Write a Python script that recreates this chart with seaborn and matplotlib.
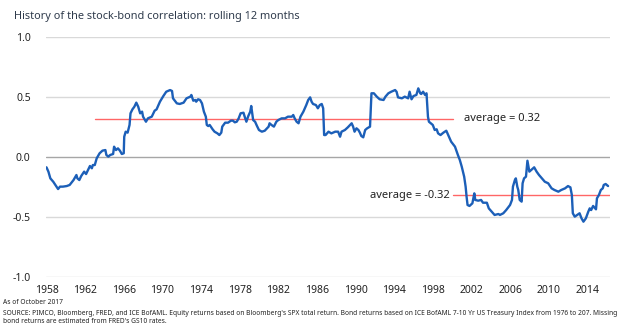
import matplotlib
matplotlib.use("Agg")
import matplotlib.pyplot as plt
import seaborn as sns
import pandas as pd

# Rolling 12-month stock-bond correlation (decimal year, correlation)
years = [
    1958.0, 1958.2, 1958.4, 1958.7, 1959.0, 1959.2, 1959.4, 1959.7, 1960.1, 1960.4,
    1960.8, 1961.1, 1961.2, 1961.4, 1961.6, 1961.9, 1962.1, 1962.3, 1962.5, 1962.7,
    1962.8, 1963.0, 1963.2, 1963.4, 1963.5, 1963.8, 1964.1, 1964.2, 1964.4, 1964.6,
    1964.9, 1965.0, 1965.2, 1965.4, 1965.6, 1965.8, 1966.0, 1966.05, 1966.2, 1966.4,
    1966.6, 1966.7, 1966.9, 1967.1, 1967.3, 1967.5, 1967.7, 1967.9, 1968.0, 1968.3,
    1968.5, 1968.9, 1969.2,
    1969.4, 1969.75, 1970.1, 1970.4, 1970.8, 1971.0, 1971.1, 1971.5, 1971.8, 1972.2,
    1972.5, 1972.9, 1973.0, 1973.2, 1973.4, 1973.5, 1973.7, 1973.9, 1974.1, 1974.3,
    1974.5, 1974.6, 1974.75, 1974.9, 1975.2, 1975.4, 1975.7, 1975.9, 1976.1, 1976.2,
    1976.5, 1976.8, 1977.1, 1977.3, 1977.5, 1977.7, 1977.9, 1978.1, 1978.4, 1978.5,
    1978.7, 1978.9, 1979.1, 1979.2, 1979.3, 1979.4, 1979.6, 1979.8, 1980.0, 1980.3,
    1980.6, 1981.0, 1981.1,
    1981.3, 1981.55, 1981.8, 1982.0, 1982.35, 1982.7, 1983.0, 1983.4, 1983.55, 1983.7,
    1983.9, 1984.1, 1984.3, 1984.6, 1984.9, 1985.1, 1985.3, 1985.45, 1985.6, 1985.9,
    1986.1, 1986.3, 1986.5, 1986.65, 1986.75, 1986.9, 1987.2, 1987.5, 1987.9, 1988.2,
    1988.4, 1988.55, 1988.9, 1989.2, 1989.6, 1989.75, 1989.9, 1990.1, 1990.3, 1990.45,
    1990.6, 1990.8, 1991.0, 1991.2, 1991.5, 1991.65, 1991.9, 1992.2, 1992.5, 1992.9,
    1993.1,
    1993.4, 1993.7, 1994.1, 1994.25, 1994.4, 1994.8, 1995.1, 1995.45, 1995.6, 1995.8,
    1996.0, 1996.3, 1996.5, 1996.7, 1996.8, 1997.0, 1997.2, 1997.35, 1997.5, 1997.6,
    1997.8, 1998.0, 1998.2, 1998.4, 1998.55, 1998.8, 1999.1, 1999.4, 1999.6, 1999.9,
    2000.3, 2000.6, 2000.8, 2001.0, 2001.25, 2001.4, 2001.5, 2001.6, 2001.8, 2002.1,
    2002.3, 2002.4, 2002.7, 2003.0, 2003.2, 2003.6, 2003.8, 2004.1, 2004.4, 2004.8,
    2004.95, 2005.3, 2005.6, 2006.0, 2006.2, 2006.3, 2006.5, 2006.6, 2006.75, 2006.85,
    2007.0, 2007.2, 2007.3, 2007.45, 2007.65, 2007.8, 2008.0, 2008.2, 2008.5, 2008.75,
    2009.0, 2009.3, 2009.6, 2009.95, 2010.3, 2010.6, 2011.0, 2011.3, 2011.7, 2012.0,
    2012.25, 2012.4, 2012.5, 2012.7, 2012.95, 2013.2, 2013.4, 2013.6, 2013.85, 2014.1,
    2014.25, 2014.4, 2014.6, 2014.9, 2015.0, 2015.2, 2015.4, 2015.6, 2015.7, 2015.9,
    2016.15,
]
correlation = [
    -0.086, -0.122, -0.178, -0.206, -0.242, -0.267, -0.247, -0.247, -0.242, -0.233,
    -0.192, -0.150, -0.178, -0.192, -0.158, -0.122, -0.142, -0.108, -0.075, -0.094,
    -0.067, -0.067, -0.011, 0.017, 0.031, 0.053, 0.058, 0.017, 0.003, 0.017,
    0.025, 0.086, 0.058, 0.072, 0.053, 0.025, 0.031, 0.169, 0.211, 0.203,
    0.267, 0.364, 0.397, 0.419, 0.453, 0.419, 0.364, 0.378, 0.336, 0.294,
    0.322, 0.336, 0.386,
    0.397, 0.461, 0.508, 0.544, 0.558, 0.550, 0.489, 0.447, 0.442, 0.453,
    0.489, 0.503, 0.517, 0.469, 0.475, 0.461, 0.481, 0.475, 0.447, 0.378,
    0.336, 0.267, 0.258, 0.267, 0.231, 0.211, 0.197, 0.183, 0.203, 0.253,
    0.286, 0.286, 0.303, 0.303, 0.289, 0.294, 0.322, 0.364, 0.369, 0.342,
    0.294, 0.342, 0.378, 0.425, 0.364, 0.308, 0.294, 0.258, 0.225, 0.211,
    0.219, 0.253, 0.281,
    0.267, 0.253, 0.294, 0.308, 0.322, 0.322, 0.336, 0.336, 0.350, 0.322,
    0.294, 0.281, 0.336, 0.378, 0.433, 0.475, 0.497, 0.461, 0.442, 0.433,
    0.406, 0.433, 0.442, 0.406, 0.183, 0.183, 0.211, 0.197, 0.211, 0.211,
    0.169, 0.211, 0.225, 0.247, 0.281, 0.253, 0.211, 0.239, 0.225, 0.203,
    0.175, 0.164, 0.225, 0.239, 0.253, 0.531, 0.531, 0.503, 0.481, 0.475,
    0.503,
    0.531, 0.544, 0.558, 0.544, 0.497, 0.489, 0.503, 0.489, 0.544, 0.481,
    0.508, 0.517, 0.572, 0.531, 0.525, 0.544, 0.517, 0.531, 0.336, 0.294,
    0.281, 0.267, 0.225, 0.231, 0.197, 0.183, 0.203, 0.219, 0.183, 0.128,
    0.086, 0.017, -0.025, -0.081, -0.164, -0.247, -0.331, -0.400, -0.408, -0.386,
    -0.303, -0.358, -0.364, -0.358, -0.381, -0.381, -0.428, -0.456, -0.483, -0.475,
    -0.483, -0.469, -0.442, -0.400, -0.358, -0.247, -0.192, -0.178, -0.247, -0.275,
    -0.358, -0.372, -0.219, -0.178, -0.164, -0.031, -0.122, -0.108, -0.086, -0.122,
    -0.150, -0.178, -0.206, -0.219, -0.261, -0.275, -0.289, -0.275, -0.261, -0.242,
    -0.253, -0.317, -0.469, -0.497, -0.483, -0.469, -0.511, -0.539, -0.511, -0.456,
    -0.428, -0.442, -0.408, -0.436, -0.344, -0.317, -0.275, -0.261, -0.233, -0.225,
    -0.242,
]

# Period averages: (start year, end year, average)
avg_periods = [(1963.0, 2000.05, 0.32), (2000.05, 2016.35, -0.32)]
avg_labels = ["average = 0.32", "average = -0.32"]

y_ticks = [1.0, 0.5, 0.0, -0.5, -1.0]
x_ticks = list(range(1958, 2015, 4))

title = "History of the stock-bond correlation: rolling 12 months"
footnote_date = "As of October 2017"
footnote_source = (
    "SOURCE: PIMCO, Bloomberg, FRED, and ICE BofAML. Equity returns based on Bloomberg's SPX "
    "total return. Bond returns based on ICE BofAML 7-10 Yr US Treasury Index from 1976 to 207. "
    "Missing\nbond returns are estimated from FRED's GS10 rates."
)

sns.set_style("white")
plt.rcParams["font.family"] = ["Noto Sans", "DejaVu Sans"]
plt.rcParams["axes.unicode_minus"] = False

df = pd.DataFrame({"year": years, "corr": correlation})

fig = plt.figure(figsize=(6.28, 3.29), dpi=100)
ax = fig.add_axes([46 / 628, 1 - 277 / 329, 564 / 628, 240 / 329])

# Horizontal gridlines
for yv in y_ticks:
    ax.axhline(yv, color="#a6a6a6" if yv == 0 else "#d9d9d9", lw=1.0, zorder=1)

# Average lines
for (x0, x1, v) in avg_periods:
    ax.plot([x0, x1], [v, v], color="#ff6666", lw=1.0, zorder=2)

sns.lineplot(data=df, x="year", y="corr", ax=ax, color="#1c5fb8", lw=1.7,
             sort=False, zorder=3)

ax.set_xlim(1957.95, 2016.35)
ax.set_ylim(-1.0, 1.0)
ax.set_xticks(x_ticks)
ax.set_xticklabels([str(t) for t in x_ticks])
ax.set_yticks(y_ticks)
ax.set_yticklabels([f"{t:.1f}" for t in y_ticks])
ax.tick_params(axis="both", length=0, labelsize=7.5, colors="#222222")
ax.tick_params(axis="y", pad=11)
ax.tick_params(axis="x", pad=6)
ax.set_xlabel("")
ax.set_ylabel("")
for s in ax.spines.values():
    s.set_visible(False)

# Annotations for averages
ax.text(2001.2, avg_periods[0][2], avg_labels[0], fontsize=8, color="#222222",
        va="center", ha="left")
ax.text(1999.8, avg_periods[1][2], avg_labels[1], fontsize=8, color="#222222",
        va="center", ha="right")

fig.text(14 / 628, 1 - 16 / 329, title, fontsize=7.9, color="#2f3b4c",
         va="center", ha="left")
fig.text(3 / 628, 1 - 303 / 329, footnote_date, fontsize=4.8, color="#222222",
         va="center", ha="left")
fig.text(3 / 628, 1 - 317.5 / 329, footnote_source, fontsize=4.8, color="#222222",
         va="center", ha="left", linespacing=1.25)

fig.savefig("out.png", dpi=100)
